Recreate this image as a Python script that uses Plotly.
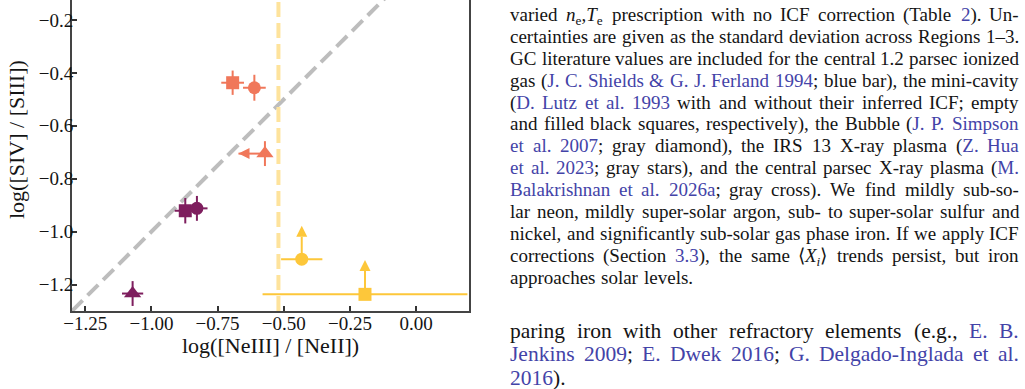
import re
import plotly.graph_objects as go

# ---------------- data ----------------
orange_sym = ["square", "circle", "triangle-up"]
orange_x = [-0.693, -0.611, -0.571]
orange_y = [-0.437, -0.456, -0.705]
orange_xerr = [0.043, 0.043, 0.0]
orange_yerr = [0.046, 0.049, 0.047]
orange_xuplim = [0.0, 0.0, 0.10]      # left-pointing limit arrow length

purple_sym = ["square", "circle", "triangle-up"]
purple_x = [-0.872, -0.828, -1.071]
purple_y = [-0.921, -0.912, -1.234]
purple_xerr = [0.040, 0.040, 0.040]
purple_yerr = [0.048, 0.047, 0.047]

yellow_sym = ["circle", "square"]
yellow_x = [-0.432, -0.193]
yellow_y = [-1.104, -1.237]
yellow_xerr = [0.078, 0.387]
yellow_ylolim = [0.126, 0.130]        # upward limit arrow length

one_to_one = [-1.3, 0.2]
vline_x = -0.52

x_ticks = [-1.25, -1.0, -0.75, -0.5, -0.25, 0.0]
x_ticktext = ["\u22121.25", "\u22121.00", "\u22120.75", "\u22120.50", "\u22120.25", "0.00"]
y_ticks = [-1.2, -1.0, -0.8, -0.6, -0.4, -0.2]
y_ticktext = ["\u22121.2", "\u22121.0", "\u22120.8", "\u22120.6", "\u22120.4", "\u22120.2"]

x_title = "log([NeIII] / [NeII])"
y_title = "log([SIV] / [SIII])"

# {...} marks blue (linked) text; a link may continue on the next line
caption_lines = [
    "varied <i>n</i><sub>e</sub>,<i>T</i><sub>e</sub> prescription with no ICF correction (Table {2}). Un-",
    "certainties are given as the standard deviation across Regions 1\u20133.",
    "GC literature values are included for the central 1.2 parsec ionized",
    "gas ({J. C. Shields &amp; G. J. Ferland 1994}; blue bar), the mini-cavity",
    "({D. Lutz et al. 1993} with and without their inferred ICF; empty",
    "and filled black squares, respectively), the Bubble ({J. P. Simpson",
    "et al. 2007}; gray diamond), the IRS 13 X-ray plasma ({Z. Hua",
    "et al. 2023}; gray stars), and the central parsec X-ray plasma ({M.",
    "Balakrishnan et al. 2026a}; gray cross). We find mildly sub-so-",
    "lar neon, mildly super-solar argon, sub- to super-solar sulfur and",
    "nickel, and significantly sub-solar gas phase iron. If we apply ICF",
    "corrections (Section {3.3}), the same \u27e8<i>X<sub>i</sub></i>\u27e9 trends persist, but iron",
    "approaches solar levels.",
]
body_lines = [
    "paring iron with other refractory elements (e.g., {E. B.",
    "Jenkins 2009}; {E. Dwek 2016}; {G. Delgado-Inglada et al.",
    "2016}).",
]

ORANGE = "#F0775A"
PURPLE = "#7E1E5E"
YELLOW = "#FDC73A"
VLINE = "#FEE39C"
GRAY = "#BDBDBD"
BLUE = "#4343a8"
INK = "#141414"

SIZES = {"square": 13, "circle": 13, "triangle-up": 15}

fig = go.Figure()

# reference lines
fig.add_trace(go.Scatter(x=one_to_one, y=one_to_one, mode="lines",
                         line=dict(color=GRAY, width=4, dash="15px,7px"),
                         hoverinfo="skip", showlegend=False))
fig.add_trace(go.Scatter(x=[vline_x, vline_x], y=[-1.3, 0.2], mode="lines",
                         line=dict(color=VLINE, width=4, dash="15px,6px"),
                         hoverinfo="skip", showlegend=False))

def add_group(xs, ys, xerr, yerr, syms, color):
    fig.add_trace(go.Scatter(
        x=xs, y=ys, mode="markers",
        marker=dict(symbol=syms, size=[SIZES[s] for s in syms], color=color,
                    opacity=1, line=dict(width=0)),
        error_x=dict(type="data", array=xerr, visible=True, color=color,
                     thickness=2, width=0),
        error_y=dict(type="data", array=yerr, visible=True, color=color,
                     thickness=2, width=0),
        hoverinfo="skip", showlegend=False))

# limit arrows
for x, y, ln in zip(orange_x, orange_y, orange_xuplim):
    if ln > 0:
        fig.add_trace(go.Scatter(x=[x, x - ln], y=[y, y], mode="lines+markers",
                                 line=dict(color=ORANGE, width=2),
                                 marker=dict(symbol=["circle", "arrow-left"], size=[0, 11],
                                             opacity=1, color=ORANGE, line=dict(width=0)),
                                 hoverinfo="skip", showlegend=False))
for x, y, ln in zip(yellow_x, yellow_y, yellow_ylolim):
    fig.add_trace(go.Scatter(x=[x, x], y=[y, y + ln], mode="lines+markers",
                             line=dict(color=YELLOW, width=2),
                             marker=dict(symbol=["circle", "arrow-up"], size=[0, 11],
                                         opacity=1, color=YELLOW, line=dict(width=0)),
                             hoverinfo="skip", showlegend=False))

add_group(orange_x, orange_y, orange_xerr, orange_yerr, orange_sym, ORANGE)
add_group(purple_x, purple_y, purple_xerr, purple_yerr, purple_sym, PURPLE)
add_group(yellow_x, yellow_y, yellow_xerr, [0, 0], yellow_sym, YELLOW)

# layout geometry (pixels)
W, H = 1025, 389
PL, PR, PB = 72, 469, 311
pw, ph = PR - PL, PB

def px(xp):
    return (xp - PL) / pw
def py(yp):
    return 1 - yp / ph

FONT = "Liberation Serif, Times New Roman, Times, serif"
axis_common = dict(ticks="inside", ticklen=5, tickwidth=1.5, tickcolor="#333333",
                   showline=True, linecolor="#444444", linewidth=2,
                   showgrid=False, zeroline=False,
                   tickfont=dict(size=19, family=FONT, color=INK))
fig.update_layout(
    width=W, height=H,
    margin=dict(l=PL, r=W - PR, t=0, b=H - PB, pad=0),
    paper_bgcolor="white", plot_bgcolor="white",
    font=dict(family=FONT, color=INK),
    xaxis=dict(range=[-1.3, 0.2], tickvals=x_ticks, ticktext=x_ticktext,
               mirror=False, ticklabelstandoff=-6, **axis_common),
    yaxis=dict(range=[-1.3, -0.1243], tickvals=y_ticks, ticktext=y_ticktext,
               mirror=True, ticklabelstandoff=-7, **axis_common),
)

ann = []
ann.append(dict(text=x_title, x=0.5, y=py(345), xref="paper", yref="paper",
                showarrow=False, xanchor="center", yanchor="middle",
                font=dict(size=22, family=FONT, color=INK)))
ann.append(dict(text=y_title, x=px(17), y=py(140), xref="paper", yref="paper",
                showarrow=False, xanchor="center", yanchor="middle", textangle=-90,
                font=dict(size=22, family=FONT, color=INK)))

# ---- justified paragraph text (Times metrics, = Liberation Serif) ----
TW = {' ': 250, '!': 333, '&': 778, '(': 333, ')': 333, ',': 250, '-': 333, '.': 250,
      '/': 278, ':': 278, ';': 278, '[': 333, ']': 333, '\u2013': 500,
      '\u27e8': 333, '\u27e9': 333,
      'A': 722, 'B': 667, 'C': 667, 'D': 722, 'E': 611, 'F': 556, 'G': 722, 'H': 722,
      'I': 333, 'J': 389, 'K': 722, 'L': 611, 'M': 889, 'N': 722, 'O': 722, 'P': 556,
      'Q': 722, 'R': 667, 'S': 556, 'T': 611, 'U': 722, 'V': 722, 'W': 944, 'X': 722,
      'Y': 722, 'Z': 611,
      'a': 444, 'b': 500, 'c': 444, 'd': 500, 'e': 444, 'f': 333, 'g': 500, 'h': 500,
      'i': 278, 'j': 278, 'k': 500, 'l': 278, 'm': 778, 'n': 500, 'o': 500, 'p': 500,
      'q': 500, 'r': 333, 's': 389, 't': 278, 'u': 500, 'v': 500, 'w': 722, 'x': 500,
      'y': 500, 'z': 444}
TAG = re.compile(r"<[^>]+>")
OPEN = f'<span style="color:{BLUE}">'

def word_width(w):
    total = 0.0
    for part in re.split(r"(<sub>.*?</sub>)", w):
        scale = 0.7 if part.startswith("<sub>") else 1.0
        t = TAG.sub("", part).replace("&amp;", "&")
        total += scale * sum(TW.get(c, 500) for c in t)
    return total / 1000.0

def split_words(s, blue):
    out = []
    for w in [w for w in s.split(" ") if w]:
        html = OPEN if blue else ""
        for ch in w:
            if ch == "{":
                html += OPEN; blue = True
            elif ch == "}":
                html += "</span>"; blue = False
            else:
                html += ch
        if blue:
            html += "</span>"
        out.append((html, word_width(w.replace("{", "").replace("}", ""))))
    return out, blue

def place_paragraph(lines, y0, dy, fs, x0=508, x1=1017):
    blue = False
    for i, line in enumerate(lines):
        words, blue = split_words(line, blue)
        widths = [wd * fs for _, wd in words]
        last = (i == len(lines) - 1)
        if last or len(words) < 2:
            gap = 0.3 * fs
        else:
            gap = (x1 - x0 - sum(widths)) / (len(words) - 1)
        xc = x0
        yc = y0 + dy * i
        for (html, _), wpx in zip(words, widths):
            ann.append(dict(text=html, x=px(xc), y=py(yc - 0.58 * fs - 1),
                            xref="paper", yref="paper", showarrow=False,
                            xanchor="left", yanchor="top", align="left",
                            font=dict(size=fs, family=FONT, color=INK)))
            xc += wpx + gap

place_paragraph(caption_lines, 14, 21.9, 19)
place_paragraph(body_lines, 330, 23.5, 21.5)

fig.update_layout(annotations=ann)
fig.write_html("out.html")
